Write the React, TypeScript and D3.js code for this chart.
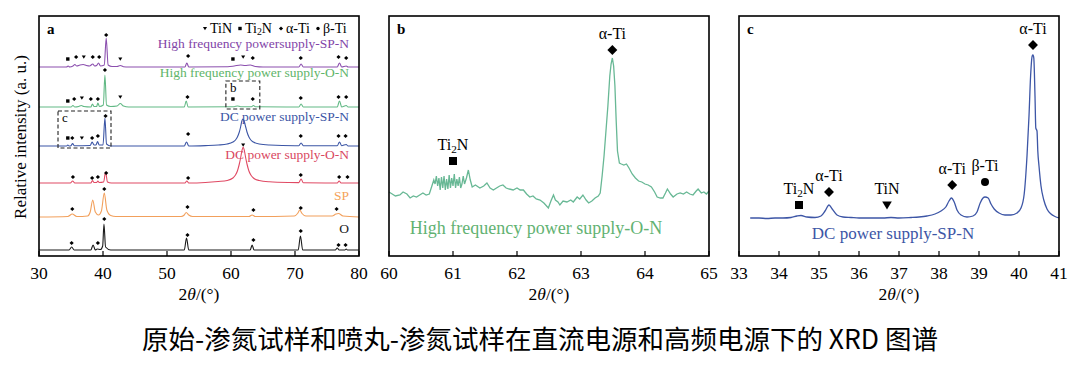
import React from "react";
import * as d3 from "d3";

// ---------- DATA ----------
// Panel a: 2θ (deg) vs intensity above each pattern's baseline (a.u.)
const aO: [number, number][] = [[30,0],[34.7,0],[35.1,3],[35.5,0],[38.1,0],[38.45,5],[38.8,0],[39.1,1],[39.6,0.5],[39.95,4],[40.15,26],[40.4,3],[41.2,0],[52.7,0],[53.05,12],[53.4,0],[63.0,0],[63.3,5],[63.6,0],[70.5,0],[70.85,14],[71.2,0],[76.3,0],[76.6,2],[76.9,0],[77.8,0],[78.0,1],[78.2,0],[80,0]];
const aSP: [number, number][] = [[30,0],[34.5,0.5],[35.2,3],[35.9,0.5],[37.6,1],[38.0,5],[38.4,17],[38.8,5],[39.3,2],[39.75,6],[40.2,24],[40.6,7],[41.2,1.5],[42,0.5],[52.2,0.5],[52.7,2],[53.0,4.5],[53.4,2],[54,0.5],[62.8,0.5],[63.3,2],[63.8,0.5],[69.9,1],[70.4,3.5],[70.75,7],[71.1,3.5],[71.7,1],[75.8,1],[76.4,3],[76.8,3.5],[77.5,1],[80,0]];
const aDCON: [number, number][] = [[30,0],[34.9,0],[35.25,2],[35.6,0],[38.1,0],[38.35,2.5],[38.6,0.5],[39.0,0.5],[39.2,2],[39.4,0.5],[40.1,1],[40.4,11],[40.7,1],[41.3,0],[52.8,0],[53.1,2],[53.4,0],[56,0.5],[58,1.5],[59.4,2.5],[60.3,5],[60.7,8],[61.0,12],[61.3,19],[61.5,25],[61.7,32],[61.9,36],[62.1,32],[62.3,25],[62.5,19],[62.8,12],[63.1,8],[63.5,5],[64.4,2.5],[66,1.2],[69,0.5],[70.6,0.4],[70.95,4],[71.3,0.2],[76.6,0],[76.9,2],[77.2,0],[80,0]];
const aDCSPN: [number, number][] = [[30,0],[34.3,0],[34.5,1],[34.7,0],[35.0,0.3],[35.25,2.5],[35.5,0.3],[38.0,0.5],[38.3,4],[38.6,1],[38.9,1],[39.15,4.5],[39.4,1],[40.0,1],[40.3,28],[40.55,2],[41.2,0],[52.7,0],[53.05,4],[53.4,0],[56,0.4],[58,1],[59.4,2],[60.3,4],[60.7,6],[61.0,9],[61.3,14],[61.5,19],[61.7,25],[61.85,27],[62.05,25],[62.3,19],[62.5,14],[62.8,9],[63.1,6],[63.5,4],[64.4,2],[66,1],[70,0.3],[70.6,0.3],[70.95,3],[71.3,0.3],[76.6,0.3],[76.95,4],[77.3,0.3],[78.0,1.5],[78.3,0],[80,0]];
const aHFON: [number, number][] = [[30,0],[35.0,0],[35.3,1.5],[35.6,0],[36.2,0.5],[36.6,1.5],[37.0,0.5],[38.1,0],[38.35,3],[38.6,0.5],[39.0,0.5],[39.2,4],[39.45,0.5],[40.05,2],[40.3,32],[40.55,2],[41.2,0.5],[42.2,1],[42.7,3.5],[43.2,1],[44,0],[52.7,0],[53.0,6],[53.3,0],[60.5,0.3],[61,1],[61.5,0.3],[63.2,0.3],[63.5,1.5],[63.8,0.3],[70.6,0],[70.95,3],[71.3,0],[76.6,0],[76.95,6],[77.3,0],[78.0,1.5],[78.3,0],[80,0]];
const aHFSPN: [number, number][] = [[30,0],[34.3,0],[34.55,1],[34.8,0],[35.3,1],[35.6,2.5],[35.9,1],[36.4,2],[36.9,2.5],[37.4,1.5],[37.9,1],[38.4,3],[38.7,1],[39.0,1.5],[39.3,4],[39.6,1],[40.2,2],[40.5,29],[40.8,2],[41.4,0.5],[42.2,0.5],[42.7,1.5],[43.2,0.3],[44,0],[52.8,0],[53.1,4],[53.4,0],[59.5,0.3],[60.5,1],[61.5,2],[62.2,1.5],[63,2],[63.8,0.5],[65,0],[70.6,0],[70.95,3],[71.3,0],[76.6,0],[76.95,4],[77.3,0],[78.0,1],[78.3,0],[80,0]];

// vertical offsets of the stacked patterns (a.u.)
const aOffsets = [6, 39, 73, 110, 149, 189];
const aSeriesNames = ["O", "SP", "DC power supply-O-N", "DC power supply-SP-N", "High frequency power supply-O-N", "High frequency powersupply-SP-N"];
const aSeriesColors = ["#1a1a1a", "#f2a05c", "#e04a64", "#3b55a5", "#62b985", "#8b4fae"];
const aLabelColors = ["#1a1a1a", "#f5a35a", "#d9485f", "#3b55a5", "#5fb56a", "#8245a8"];
const aLabelLevels = [23, 56, 97, 135, 179, 208];

// phase markers in panel a: [2θ, absolute intensity, phase]
type Mk = [number, number, string];
const aMarkers: Mk[][] = [
  [[35.1,13,"a"],[39.2,13,"a"],[40.2,37,"a"],[53.2,21,"a"],[63.5,16,"a"],[70.9,25,"a"],[76.8,11,"a"],[77.9,11,"a"]],
  [[35.2,47,"a"],[40.2,67,"a"],[53.2,49,"a"],[63.5,46,"a"],[70.9,48,"a"],[76.5,47,"a"]],
  [[35.3,79,"a"],[38.3,78,"a"],[39.2,79,"a"],[40.5,83,"a"],[53.3,78,"a"],[61.9,111,"t"],[70.9,81,"a"],[76.9,79,"a"],[78.2,79,"a"]],
  [[34.5,118,"s"],[35.2,118,"a"],[36.7,118,"t"],[38.3,118,"a"],[39.2,120,"a"],[40.4,140,"a"],[53.3,122,"a"],[70.9,120,"a"],[76.8,120,"a"],[77.9,120,"a"]],
  [[34.5,155,"s"],[35.5,157,"a"],[36.7,158,"t"],[38.1,157,"a"],[39.2,157,"a"],[40.3,186,"a"],[42.7,159,"t"],[53.2,159,"a"],[60.3,157,"s"],[63.4,157,"a"],[70.9,158,"a"],[76.8,159,"a"],[78.0,159,"a"]],
  [[34.5,197,"s"],[35.8,199,"a"],[37.0,199,"t"],[38.4,199,"a"],[39.4,199,"a"],[40.5,221,"a"],[42.7,197,"t"],[53.3,200,"a"],[60.3,197,"s"],[61.9,199,"t"],[63.4,198,"a"],[70.9,198,"a"],[76.8,199,"a"],[78.0,198,"a"]],
];
// zoom windows drawn in panel a: [2θ0, 2θ1, I0, I1, name]
const aZoomBoxes: [number, number, number, number, string][] = [[59.2, 64.5, 147, 175, "b"], [32.97, 41.25, 108, 145, "c"]];
// legend entries: [phase, name]
const legendItems: [string, string][] = [["t", "TiN"], ["s", "Ti2N"], ["a", "α-Ti"], ["c", "β-Ti"]];

// Panel b: High frequency power supply-O-N, 60–65°
const bData: [number, number][] = [[60.0,64],[60.05,62],[60.1,60],[60.17,61],[60.22,64],[60.28,62],[60.33,58],[60.38,60],[60.43,59],[60.48,61],[60.53,63],[60.58,61],[60.63,62],[60.67,70],[60.7,76],[60.72,72],[60.74,80],[60.76,70],[60.78,78],[60.8,66],[60.82,79],[60.84,68],[60.86,80],[60.88,66],[60.9,77],[60.92,67],[60.94,81],[60.96,68],[60.98,78],[61.0,70],[61.02,82],[61.04,68],[61.06,77],[61.08,70],[61.1,79],[61.12,68],[61.14,72],[61.16,80],[61.18,72],[61.21,78],[61.24,86],[61.27,76],[61.3,69],[61.35,71],[61.42,68],[61.48,70],[61.53,73],[61.58,68],[61.63,66],[61.68,68],[61.73,70],[61.78,71],[61.83,68],[61.88,67],[61.94,66],[62.0,68],[62.05,66],[62.1,66],[62.15,62],[62.2,59],[62.25,60],[62.3,57],[62.36,56],[62.42,53],[62.49,48],[62.53,55],[62.57,61],[62.6,56],[62.64,54],[62.67,51],[62.72,55],[62.78,54],[62.84,56],[62.88,54],[62.94,59],[62.98,57],[63.03,61],[63.08,56],[63.12,53],[63.17,55],[63.22,58],[63.27,60],[63.3,63],[63.33,80],[63.36,100],[63.39,125],[63.42,150],[63.45,180],[63.47,192],[63.49,198],[63.51,190],[63.53,170],[63.55,135],[63.57,105],[63.6,93],[63.63,92],[63.67,91],[63.71,92],[63.75,88],[63.8,82],[63.85,78],[63.9,75],[63.95,74],[64.0,72],[64.05,71],[64.1,69],[64.15,64],[64.19,59],[64.24,58],[64.28,58],[64.32,63],[64.35,67],[64.4,62],[64.44,59],[64.5,62],[64.55,63],[64.6,62],[64.65,64],[64.7,62],[64.75,61],[64.8,65],[64.83,67],[64.88,63],[64.92,64],[64.96,62],[65.0,65]];
const bMarkers: [number, number, string, string][] = [[61.0, 95, "s", "Ti2N"], [63.49, 206, "a", "α-Ti"]];

// Panel c: DC power supply-SP-N, 33–41°
const cData: [number, number][] = [[33.28,38],[33.5,38],[33.7,37.5],[33.9,38],[34.1,38],[34.3,38.5],[34.45,40],[34.55,40.5],[34.7,39],[34.9,38.5],[35.05,40],[35.15,45],[35.25,51],[35.33,47],[35.45,41],[35.6,39],[35.8,38.5],[36.0,38],[36.3,38],[36.6,38],[36.8,38.5],[37.0,38],[37.3,38.5],[37.5,39],[37.7,40],[37.9,42],[38.05,45],[38.17,49],[38.25,55],[38.31,58],[38.38,54],[38.45,46],[38.55,41],[38.7,39],[38.85,40],[38.95,44],[39.03,53],[39.1,58],[39.15,59],[39.23,58],[39.3,52],[39.38,47],[39.5,43],[39.65,41],[39.8,41],[39.95,43],[40.05,48],[40.13,62],[40.2,100],[40.25,140],[40.29,180],[40.33,200],[40.35,201],[40.37,198],[40.4,160],[40.42,128],[40.45,125],[40.47,105],[40.5,90],[40.55,70],[40.62,56],[40.7,47],[40.8,42],[40.9,39.5],[41.0,38]];
const cMarkers: [number, number, string, string][] = [[34.5, 51, "s", "Ti2N"], [35.25, 64, "a", "α-Ti"], [36.7, 51, "t", "TiN"], [38.33, 71, "a", "α-Ti"], [39.15, 74, "c", "β-Ti"], [40.35, 211, "a", "α-Ti"]];

const aTicks = [30, 40, 50, 60, 70, 80];
const bTicks = [60, 61, 62, 63, 64, 65];
const cTicks = [33, 34, 35, 36, 37, 38, 39, 40, 41];
const titleText = "原始-渗氮试样和喷丸-渗氮试样在直流电源和高频电源下的 XRD 图谱";

// ---------- DRAWING ----------
const SERIF = "'Liberation Serif', 'Times New Roman', serif";
const yS = d3.scaleLinear().domain([0, 240]).range([256, 16]);
const xA = d3.scaleLinear().domain([30, 80]).range([39, 359]);
const xB = d3.scaleLinear().domain([60, 65]).range([389, 709]);
const xC = d3.scaleLinear().domain([33, 41]).range([739, 1059]);

function Marker({ type, x, y, s }: { type: string; x: number; y: number; s: number }) {
  if (type === "s") return <rect x={x - s / 2} y={y - s / 2} width={s} height={s} fill="#000" />;
  if (type === "t") return <path d={`M${x - s * 0.6},${y - s * 0.45}L${x + s * 0.6},${y - s * 0.45}L${x},${y + s * 0.55}Z`} fill="#000" />;
  if (type === "c") return <circle cx={x} cy={y} r={s / 2} fill="#000" />;
  const h = s * 0.62;
  return <path d={`M${x},${y - h}L${x + h},${y}L${x},${y + h}L${x - h},${y}Z`} fill="#000" />;
}

function Label({ text, x, y, size, anchor = "middle", fill = "#000", sub = 0.18 }: any) {
  if (text === "Ti2N") {
    return (
      <text x={x} y={y} fontSize={size} textAnchor={anchor} fill={fill} fontFamily={SERIF}>
        Ti<tspan fontSize={size * 0.7} dy={size * sub}>2</tspan><tspan dy={-size * sub}>N</tspan>
      </text>
    );
  }
  return <text x={x} y={y} fontSize={size} textAnchor={anchor} fill={fill} fontFamily={SERIF}>{text}</text>;
}

function Axis({ x, ticks, label }: { x: d3.ScaleLinear<number, number>; ticks: number[]; label: string }) {
  const [r0, r1] = x.range();
  return (
    <g>
      {ticks.map((t) => (
        <g key={t}>
          <line x1={x(t)} x2={x(t)} y1={256} y2={251} stroke="#000" strokeWidth={1.2} />
          <text x={x(t)} y={279} fontSize={17.5} textAnchor="middle" fontFamily={SERIF}>{t}</text>
        </g>
      ))}
      <rect x={r0} y={16} width={r1 - r0} height={240} fill="none" stroke="#000" strokeWidth={1.6} />
      <text x={(r0 + r1) / 2} y={300} fontSize={17.5} textAnchor="middle" fontFamily={SERIF}>
        2<tspan fontStyle="italic">θ</tspan>/(°)
      </text>
      <text x={r0 + 8} y={34} fontSize={15} fontWeight="bold" fontFamily={SERIF}>{label}</text>
    </g>
  );
}

export default function App() {
  const aSeries = [aO, aSP, aDCON, aDCSPN, aHFON, aHFSPN];
  const lineA = (off: number) =>
    d3.line<[number, number]>().x((d) => xA(d[0])).y((d) => yS(d[1] + off)).curve(d3.curveMonotoneX);
  const lineB = d3.line<[number, number]>().x((d) => xB(d[0])).y((d) => yS(d[1])).curve(d3.curveLinear);
  const lineC = d3.line<[number, number]>().x((d) => xC(d[0])).y((d) => yS(d[1])).curve(d3.curveMonotoneX);
  const legendX = [205, 240, 281, 318];

  return (
    <svg width={1080} height={366} style={{ position: "absolute", left: 0, top: 0, background: "#fff" }}>
      <rect width={1080} height={366} fill="#fff" />
      {/* Panel a */}
      <g>
        <clipPath id="clipA"><rect x={39} y={16} width={320} height={240} /></clipPath>
        <g clipPath="url(#clipA)">
          {aSeries.map((s, i) => (
            <path key={i} d={lineA(aOffsets[i])(s) || ""} fill="none" stroke={aSeriesColors[i]} strokeWidth={1.1} />
          ))}
        </g>
        {aMarkers.map((row, i) =>
          row.map((m, j) => <Marker key={`${i}-${j}`} type={m[2]} x={xA(m[0])} y={yS(m[1])} s={3.4} />)
        )}
        {aZoomBoxes.map((b, i) => (
          <g key={i}>
            <rect x={xA(b[0])} y={yS(b[3])} width={xA(b[1]) - xA(b[0])} height={yS(b[2]) - yS(b[3])}
              fill="none" stroke="#222" strokeWidth={1.1} strokeDasharray="4,2.5" />
            <text x={xA(b[0]) + 4} y={yS(b[3]) + 11} fontSize={13} fontFamily={SERIF}>{b[4]}</text>
          </g>
        ))}
        {aSeriesNames.map((n, i) => (
          <text key={n} x={349} y={yS(aLabelLevels[i])} fontSize={13.5} textAnchor="end" fill={aLabelColors[i]} fontFamily={SERIF}>{n}</text>
        ))}
        {/* legend */}
        <g fontFamily={SERIF} fontSize={14}>
          {legendItems.map((it, i) => (
            <g key={it[1]}>
              <Marker type={it[0]} x={legendX[i]} y={28.5} s={3.4} />
              <Label text={it[1]} x={legendX[i] + 5} y={33} size={14} anchor="start" sub={0.12} />
            </g>
          ))}
        </g>
        <Axis x={xA} ticks={aTicks} label="a" />
        <text transform="translate(26,137) rotate(-90)" fontSize={17} textAnchor="middle" fontFamily={SERIF}>Relative intensity (a. u.)</text>
      </g>

      {/* Panel b */}
      <g>
        <path d={lineB(bData) || ""} fill="none" stroke="#68b895" strokeWidth={1.3} />
        {bMarkers.map((m, i) => (
          <g key={i}>
            <Marker type={m[2]} x={xB(m[0])} y={yS(m[1])} s={8} />
            <Label text={m[3]} x={xB(m[0])} y={yS(m[1]) - 11} size={16} />
          </g>
        ))}
        <text x={536} y={234} fontSize={18} textAnchor="middle" fill="#62b272" fontFamily={SERIF}>High frequency power supply-O-N</text>
        <Axis x={xB} ticks={bTicks} label="b" />
      </g>

      {/* Panel c */}
      <g>
        <path d={lineC(cData) || ""} fill="none" stroke="#3d56a6" strokeWidth={1.3} />
        {cMarkers.map((m, i) => (
          <g key={i}>
            <Marker type={m[2]} x={xC(m[0])} y={yS(m[1])} s={8} />
            <Label text={m[3]} x={xC(m[0])} y={yS(m[1]) - 11} size={16} />
          </g>
        ))}
        <text x={893} y={239} fontSize={17} textAnchor="middle" fill="#3d56a6" fontFamily={SERIF}>DC power supply-SP-N</text>
        <Axis x={xC} ticks={cTicks} label="c" />
      </g>

      {/* Title */}
      <text x={540} y={349} fontSize={26.5} textAnchor="middle" fontFamily="'Noto Sans CJK SC', sans-serif">{titleText}</text>
    </svg>
  );
}
